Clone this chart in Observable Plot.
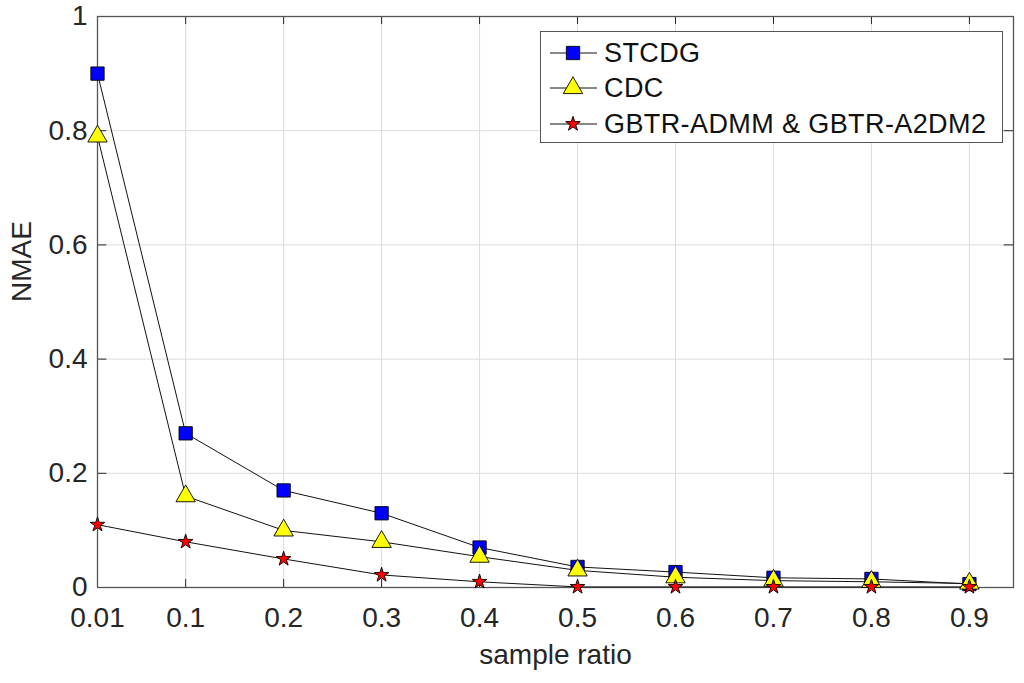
<!DOCTYPE html>
<html>
<head>
<meta charset="utf-8">
<script src="https://cdn.jsdelivr.net/npm/d3@7"></script>
<script src="https://cdn.jsdelivr.net/npm/@observablehq/plot@0.6"></script>
<style>
  body { margin: 0; background: #fff; font-family: "Liberation Sans", Arial, sans-serif; }
  #wrap { position: relative; width: 1024px; height: 683px; }
  #legend {
    position: absolute; left: 540px; top: 31px; width: 463px; height: 112px;
    border: 1.5px solid #555; background: #fff; box-sizing: border-box;
    font-size: 27px; letter-spacing: 0.4px; color: #111;
  }
  .row { position: absolute; left: 8px; height: 30px; display: flex; align-items: center; }
  .row svg { margin-right: 5px; }
</style>
</head>
<body>
<div id="wrap">
  <div id="chart"></div>
  <div id="legend"></div>
</div>
<script>
const ratios = [0.01, 0.1, 0.2, 0.3, 0.4, 0.5, 0.6, 0.7, 0.8, 0.9]
const tickLabels = ["0.01", "0.1", "0.2", "0.3", "0.4", "0.5", "0.6", "0.7", "0.8", "0.9"]
const stcdg = [0.9, 0.27, 0.17, 0.13, 0.07, 0.036, 0.027, 0.017, 0.015, 0.006]
const cdc = [0.79, 0.16, 0.10, 0.08, 0.054, 0.03, 0.018, 0.012, 0.01, 0.007]
const gbtr = [0.11, 0.08, 0.05, 0.022, 0.01, 0.001, 0.001, 0.001, 0.001, 0.001]
const yTicks = [0, 0.2, 0.4, 0.6, 0.8, 1]

const series = [
  {name: "STCDG", values: stcdg, symbol: "square", fill: "#0000ff", r: 7.5},
  {name: "CDC", values: cdc, symbol: "triangle", fill: "#ffff00", r: 7.2},
  {name: "GBTR-ADMM & GBTR-A2DM2", values: gbtr, symbol: "star", fill: "#ff0000", r: 4.6}
]

const data = series.flatMap(s => s.values.map((v, i) => ({series: s.name, x: ratios[i], y: v})))

const axisColor = "#262626"
const xdom = [0.01, 0.945]

let chart = Plot.plot({
  width: 1024,
  height: 683,
  marginLeft: 97,
  marginRight: 11,
  marginTop: 16,
  marginBottom: 96,
  style: {fontFamily: "Liberation Sans, Arial, sans-serif", fontSize: "28px", color: axisColor, background: "#fff"},
  x: {domain: xdom, ticks: ratios, tickFormat: (d, i) => tickLabels[i], tickSize: 0, tickPadding: 20, label: null},
  y: {domain: [0, 1], ticks: yTicks, tickFormat: d => d3.format("")(d), tickSize: 0, tickPadding: 10, label: null},
  marks: [
    Plot.gridX(ratios, {stroke: "#dcdcdc", strokeOpacity: 1, strokeWidth: 1}),
    Plot.gridY(yTicks, {stroke: "#dcdcdc", strokeOpacity: 1, strokeWidth: 1}),
    // inward tick marks, MATLAB style
    Plot.ruleX(ratios, {y1: 0, y2: 0.014, stroke: axisColor}),
    Plot.ruleX(ratios, {y1: 1, y2: 0.986, stroke: axisColor}),
    Plot.ruleY(yTicks, {x1: xdom[0], x2: xdom[0] + 0.0095, stroke: axisColor}),
    Plot.ruleY(yTicks, {x1: xdom[1], x2: xdom[1] - 0.0095, stroke: axisColor}),
    Plot.frame({stroke: "#555", strokeWidth: 1.3}),
    Plot.line(data, {x: "x", y: "y", z: "series", stroke: "#111", strokeWidth: 1}),
    ...series.map(s => Plot.dot(data.filter(d => d.series == s.name), {
      x: "x", y: "y", symbol: () => s.symbol, r: s.r, fill: s.fill, stroke: "#000", strokeWidth: 0.9
    })),
    Plot.text(["sample ratio"], {frameAnchor: "bottom", dy: 76, fontSize: 28, fill: axisColor}),
    Plot.text(["NMAE"], {frameAnchor: "left", dx: -75, rotate: -90, fontSize: 28, fill: axisColor})
  ]
})
d3.select('#chart').append(() => chart)
d3.select(chart).selectAll("g[aria-label$='tick label'] text").attr("fill", axisColor)

// legend inside the axes box
const leg = d3.select('#legend')
const tops = [6, 41, 77]
series.forEach((s, i) => {
  const row = leg.append("div").attr("class", "row").style("top", tops[i] + "px")
  const svg = row.append("svg").attr("width", 50).attr("height", 30)
  svg.append("line").attr("x1", 1).attr("x2", 48).attr("y1", 15).attr("y2", 15).attr("stroke", "#111")
  svg.append("path")
    .attr("transform", "translate(24,15)")
    .attr("d", d3.symbol(d3["symbol" + s.symbol[0].toUpperCase() + s.symbol.slice(1)], Math.PI * s.r * s.r)())
    .attr("fill", s.fill).attr("stroke", "#000").attr("stroke-width", 0.9)
  row.append("span").text(s.name)
})
</script>
</body>
</html>
